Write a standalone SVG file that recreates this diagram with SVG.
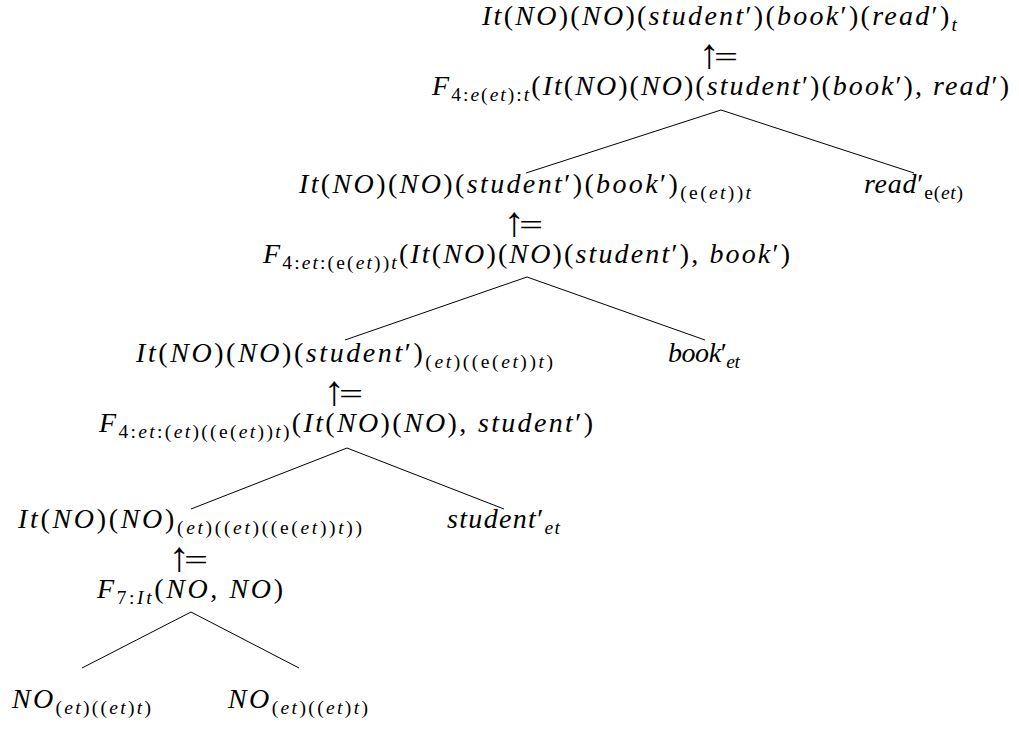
<svg xmlns="http://www.w3.org/2000/svg" width="1019" height="729" viewBox="0 0 1019 729">
<style>
text { font-family: "Liberation Serif", "DejaVu Serif", serif; font-size: 28px; fill: #000; }
.i { font-style: italic; }
.s { font-size: 19.5px; }
.up { font-family: "Liberation Sans", "DejaVu Sans", sans-serif; font-size: 42px; }
.eq { font-family: "Liberation Serif", serif; font-size: 30px; }
.conn line { stroke: #000; stroke-width: 1; }
</style>
<rect width="1019" height="729" fill="#fff"/>
<g class="conn">
<line x1="721" y1="110" x2="526" y2="173"/>
<line x1="721" y1="110" x2="914" y2="173"/>
<line x1="527" y1="277" x2="345" y2="340"/>
<line x1="527" y1="277" x2="705" y2="340"/>
<line x1="347" y1="448" x2="191" y2="509"/>
<line x1="347" y1="448" x2="504" y2="509"/>
<line x1="191" y1="612" x2="82" y2="668"/>
<line x1="191" y1="612" x2="299" y2="668"/>
</g>
<g id="n1"><text x="482" y="25" textLength="475" lengthAdjust="spacing"><tspan class="i">It</tspan>(<tspan class="i">NO</tspan>)(<tspan class="i">NO</tspan>)(<tspan class="i">student</tspan>′)(<tspan class="i">book</tspan>′)(<tspan class="i">read</tspan>′)<tspan class="s i" dy="6">t</tspan></text></g>
<g id="a1"><text><tspan class="up" x="709" y="68" text-anchor="middle">↑</tspan><tspan class="eq" x="714" y="67" textLength="24" lengthAdjust="spacingAndGlyphs">=</tspan></text></g>
<g id="n2"><text x="432" y="95" textLength="577" lengthAdjust="spacing"><tspan class="i">F</tspan><tspan class="s" dy="6">4:<tspan class="i">e</tspan>(<tspan class="i">et</tspan>):<tspan class="i">t</tspan></tspan><tspan dy="-6">(</tspan><tspan class="i">It</tspan>(<tspan class="i">NO</tspan>)(<tspan class="i">NO</tspan>)(<tspan class="i">student</tspan>′)(<tspan class="i">book</tspan>′), <tspan class="i">read</tspan>′)</text></g>
<g id="n3"><text x="299" y="193" textLength="452" lengthAdjust="spacing"><tspan class="i">It</tspan>(<tspan class="i">NO</tspan>)(<tspan class="i">NO</tspan>)(<tspan class="i">student</tspan>′)(<tspan class="i">book</tspan>′)<tspan class="s" dy="6">(e(<tspan class="i">et</tspan>))<tspan class="i">t</tspan></tspan></text></g>
<g id="n4"><text x="864" y="193" textLength="99" lengthAdjust="spacing"><tspan class="i">read</tspan>′<tspan class="s" dy="6">e(<tspan class="i">et</tspan>)</tspan></text></g>
<g id="a2"><text><tspan class="up" x="514" y="236" text-anchor="middle">↑</tspan><tspan class="eq" x="519" y="235" textLength="24" lengthAdjust="spacingAndGlyphs">=</tspan></text></g>
<g id="n5"><text x="263" y="263" textLength="527" lengthAdjust="spacing"><tspan class="i">F</tspan><tspan class="s" dy="6">4:<tspan class="i">et</tspan>:(e(<tspan class="i">et</tspan>))<tspan class="i">t</tspan></tspan><tspan dy="-6">(</tspan><tspan class="i">It</tspan>(<tspan class="i">NO</tspan>)(<tspan class="i">NO</tspan>)(<tspan class="i">student</tspan>′), <tspan class="i">book</tspan>′)</text></g>
<g id="n6"><text x="136" y="362" textLength="417" lengthAdjust="spacing"><tspan class="i">It</tspan>(<tspan class="i">NO</tspan>)(<tspan class="i">NO</tspan>)(<tspan class="i">student</tspan>′)<tspan class="s" dy="6">(<tspan class="i">et</tspan>)((e(<tspan class="i">et</tspan>))<tspan class="i">t</tspan>)</tspan></text></g>
<g id="n7"><text x="668" y="362" textLength="72" lengthAdjust="spacing"><tspan class="i">book</tspan>′<tspan class="s i" dy="6">et</tspan></text></g>
<g id="a3"><text><tspan class="up" x="334" y="405" text-anchor="middle">↑</tspan><tspan class="eq" x="339" y="404" textLength="24" lengthAdjust="spacingAndGlyphs">=</tspan></text></g>
<g id="n8"><text x="99" y="432" textLength="494" lengthAdjust="spacing"><tspan class="i">F</tspan><tspan class="s" dy="6">4:<tspan class="i">et</tspan>:(<tspan class="i">et</tspan>)((e(<tspan class="i">et</tspan>))<tspan class="i">t</tspan>)</tspan><tspan dy="-6">(</tspan><tspan class="i">It</tspan>(<tspan class="i">NO</tspan>)(<tspan class="i">NO</tspan>), <tspan class="i">student</tspan>′)</text></g>
<g id="n9"><text x="18" y="528" textLength="344" lengthAdjust="spacing"><tspan class="i">It</tspan>(<tspan class="i">NO</tspan>)(<tspan class="i">NO</tspan>)<tspan class="s" dy="6">(<tspan class="i">et</tspan>)((<tspan class="i">et</tspan>)((e(<tspan class="i">et</tspan>))<tspan class="i">t</tspan>))</tspan></text></g>
<g id="n10"><text x="447" y="528" textLength="113" lengthAdjust="spacing"><tspan class="i">student</tspan>′<tspan class="s i" dy="6">et</tspan></text></g>
<g id="a4"><text><tspan class="up" x="179" y="571" text-anchor="middle">↑</tspan><tspan class="eq" x="184" y="570" textLength="24" lengthAdjust="spacingAndGlyphs">=</tspan></text></g>
<g id="n11"><text x="97" y="598" textLength="186" lengthAdjust="spacing"><tspan class="i">F</tspan><tspan class="s" dy="6">7:<tspan class="i">It</tspan></tspan><tspan dy="-6">(</tspan><tspan class="i">NO</tspan>, <tspan class="i">NO</tspan>)</text></g>
<g id="n12"><text x="12" y="708" textLength="139" lengthAdjust="spacing"><tspan class="i">NO</tspan><tspan class="s" dy="6">(<tspan class="i">et</tspan>)((<tspan class="i">et</tspan>)<tspan class="i">t</tspan>)</tspan></text></g>
<g id="n13"><text x="228" y="708" textLength="140" lengthAdjust="spacing"><tspan class="i">NO</tspan><tspan class="s" dy="6">(<tspan class="i">et</tspan>)((<tspan class="i">et</tspan>)<tspan class="i">t</tspan>)</tspan></text></g>
</svg>
